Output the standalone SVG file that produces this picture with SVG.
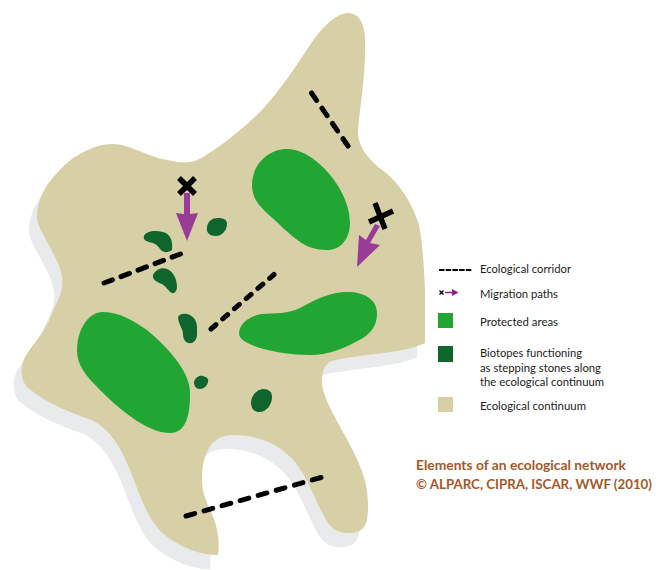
<svg xmlns="http://www.w3.org/2000/svg" width="656" height="570" viewBox="0 0 656 570">
<style>
.pa{fill:#21a533}
.bt{fill:#0e662c}
.dash{fill:none;stroke:#000;stroke-width:5;stroke-linecap:round}
.x{fill:none;stroke:#000;stroke-width:5.5;stroke-linecap:butt}
.mig{fill:#993c97}
text{font-family:Lato,"Liberation Sans",sans-serif}
.lg{font-size:12px;fill:#1c1c1c}
.tt{font-size:13.500px;fill:#a5572a;font-weight:700}
</style>
<defs>
<path id="land" d="M348 13C358 13 365 22 365 40C366 75 360 105 358 130C357 145 368 160 385 172C400 184 413 205 419 225C423 245 424 270 425 290L425 343C405 353 370 353 335 360C325 362 322 370 322 382C322 398 340 425 350 445C360 465 368 480 368 505C368 525 365 532 350 533C338 534 330 528 325 518C315 500 308 478 295 462C280 445 260 435 233 435C210 435 202 455 202 480C202 500 215 515 217 530C219 540 219 548 218 555C205 556 180 548 165 535C148 522 140 495 130 470C120 445 110 430 92 420C70 413 45 402 28 388C20 380 20 367 25 357C32 345 45 332 50 318C58 300 64 290 62 277C60 258 38 232 37 218C37 195 50 177 73 158C90 148 100 144 113 144C130 144 145 156 167 160C180 163 187 163 195 161C210 155 240 132 262 110C280 90 295 68 310 45C320 30 335 13 348 13Z"/>
<clipPath id="clip"><rect x="0" y="0" width="425" height="570"/></clipPath>
</defs>
<g id="continuum">
<g clip-path="url(#clip)"><use href="#land" x="-8" y="14" fill="#e9eaec"/></g>
<use href="#land" fill="#d7cfa6"/>
</g>
<g id="protected-areas">
<path id="pa1" class="pa" d="M287 149C315 149 350 190 350 222C350 240 340 250 327 250C305 250 295 238 283 228C268 212 252 205 252 185C252 165 268 149 287 149Z"/>
<path id="pa2" class="pa" d="M103 312C120 312 135 322 147 330C165 345 190 370 190 393C190 410 188 433 170 433C150 433 125 415 100 390C85 375 77 365 77 350C77 330 88 312 103 312Z"/>
<path id="pa3" class="pa" d="M347 292C365 292 377 300 377 313C377 325 372 332 363 338C345 348 330 355 310 355C290 355 275 352 260 348C248 344 239 340 239 333C240 322 250 316 262 314C275 313 288 314 300 308C318 298 332 292 347 292Z"/>
</g>
<g id="biotopes">
<path id="bt1" class="bt" d="M144 236C146 231 155 230 163 232C171 234 173 242 172 250C168 253 163 253 160 249C157 244 153 243 149 242C145 241 143 239 144 236Z"/>
<path id="bt2" class="bt" d="M153 275C156 269 162 267 167 269C174 272 177 280 177 287C177 291 174 294 172 293C168 291 167 287 162 284C156 282 152 279 153 275Z"/>
<path id="bt3" class="bt" d="M207 227C208 221 212 218 218 218C224 218 227 220 227 224C227 230 222 236 216 236C210 236 206 233 207 227Z"/>
<path id="bt4" class="bt" d="M178 317C180 313 186 313 190 315C195 318 197 322 197 328C197 334 198 340 192 343C186 344 183 340 183 334C183 329 178 323 178 317Z"/>
<path id="bt5" class="bt" d="M194 382C195 378 199 375 203 376C207 377 209 379 208 382C207 386 204 389 200 389C196 389 194 386 194 382Z"/>
<path id="bt6" class="bt" d="M251 403C251 396 257 389 263 389C269 389 272 392 272 397C272 404 267 412 259 412C254 412 251 408 251 403Z"/>
</g>
<g id="connectors">
<path class="dash" stroke-dasharray="9 9.500" d="M311.500 93L348 146"/>
<path class="dash" stroke-dasharray="9 9.200" d="M104 283L180.500 254"/>
<path class="dash" stroke-dasharray="6.500 9" d="M211 329L274 274.500"/>
<path class="dash" stroke-dasharray="9 9.770" d="M186 516L321 477.500"/>
<g id="migration-1">
<path class="x" d="M179 178L195 194M195 178L179 194"/>
<path class="mig" d="M184 193H190V214L198 213L187 241L176 213L184 214Z"/>
</g>
<g id="migration-2">
<path class="x" d="M369 222L393 211M375 203L385 229"/>
<path class="mig" d="M375 224L380 226L370 243L380 245L357 267L359 235L366 240Z"/>
</g>
</g>
<g id="legend">
<g id="lg-corridor"><path d="M439 270H472" stroke="#000" stroke-width="1.800" stroke-dasharray="5.500 1.200" fill="none"/><text class="lg" x="480" y="273" textLength="91" lengthAdjust="spacingAndGlyphs">Ecological corridor</text></g>
<g id="lg-migration"><path d="M439.500 290.500L443.500 294.500M443.500 290.500L439.500 294.500" stroke="#000" stroke-width="1.300" fill="none"/><path d="M445 291.800H452V289L458.500 292.500L452 296V293.200H445Z" fill="#8c1f8c"/><text class="lg" x="480" y="298" textLength="78" lengthAdjust="spacingAndGlyphs">Migration paths</text></g>
<g id="lg-protected"><rect class="pa" x="438" y="313" width="15" height="15"/><text class="lg" x="480" y="326" textLength="78" lengthAdjust="spacingAndGlyphs">Protected areas</text></g>
<g id="lg-biotopes"><rect class="bt" x="438" y="346" width="15" height="16"/><text class="lg" x="480" y="357" textLength="102" lengthAdjust="spacingAndGlyphs">Biotopes functioning</text><text class="lg" x="480" y="371.500" textLength="121" lengthAdjust="spacingAndGlyphs">as stepping stones along</text><text class="lg" x="480" y="386" textLength="124" lengthAdjust="spacingAndGlyphs">the ecological continuum</text></g>
<g id="lg-continuum"><rect x="438" y="397" width="15" height="15" fill="#d7cfa6"/><text class="lg" x="480" y="410" textLength="106" lengthAdjust="spacingAndGlyphs">Ecological continuum</text></g>
</g>
<g id="title">
<text class="tt" x="416" y="470" textLength="210" lengthAdjust="spacingAndGlyphs">Elements of an ecological network</text>
<text class="tt" x="416" y="489" textLength="236" lengthAdjust="spacingAndGlyphs">© ALPARC, CIPRA, ISCAR, WWF (2010)</text>
</g>
</svg>
